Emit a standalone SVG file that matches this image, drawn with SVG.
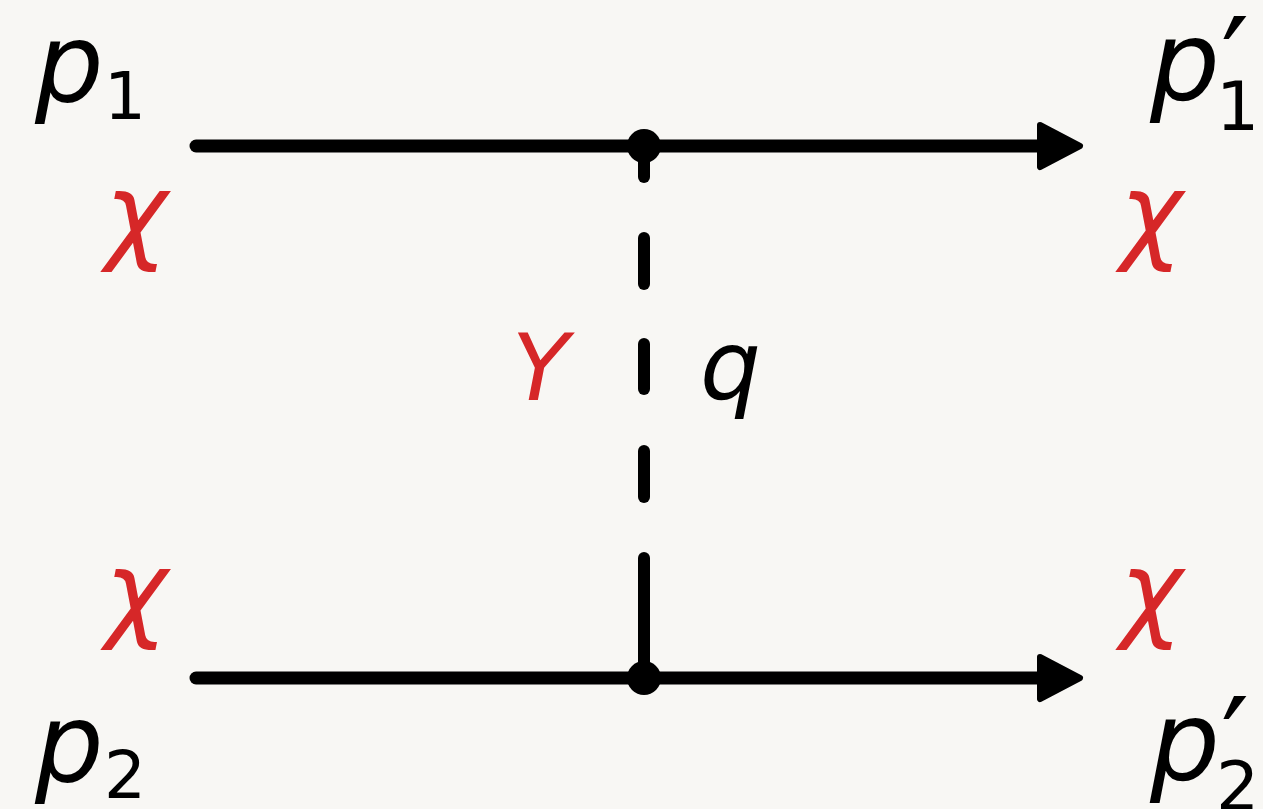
<svg xmlns="http://www.w3.org/2000/svg" width="1263" height="809" viewBox="0 0 1263 809">
<style>
.m{font-family:"DejaVu Sans",sans-serif;font-style:italic;fill:#000}
.s{font-style:normal}
.r{font-family:"DejaVu Sans",sans-serif;font-style:italic;fill:#d62728}
.ln{stroke:#000;stroke-width:13;stroke-linecap:round;fill:none}
.ds{stroke:#000;stroke-width:12;stroke-linecap:round;fill:none}
.ah{fill:#000;stroke:#000;stroke-width:6;stroke-linejoin:round}
</style>
<rect width="1263" height="809" fill="#f8f7f4"/>
<g id="connectors">
<line class="ln" x1="196" y1="146" x2="1045" y2="146"/>
<polygon class="ah" points="1040,125 1080,146 1040,167"/>
<line class="ln" x1="196" y1="678" x2="1045" y2="678"/>
<polygon class="ah" points="1040,657 1080,678 1040,699"/>
<g id="propagator">
<line class="ds" x1="644" y1="146" x2="644" y2="177"/>
<line class="ds" x1="644" y1="238" x2="644" y2="284"/>
<line class="ds" x1="644" y1="344" x2="644" y2="389"/>
<line class="ds" x1="644" y1="451" x2="644" y2="497"/>
<line class="ds" x1="644" y1="558" x2="644" y2="678"/>
</g>
</g>
<g id="vertex-top"><circle cx="644" cy="146" r="17"/></g>
<g id="vertex-bottom"><circle cx="644" cy="678" r="17"/></g>
<g id="label-p1"><text class="m" x="35" y="102" font-size="108">p<tspan class="s" x="104" y="119" font-size="66">1</tspan></text></g>
<g id="label-p1prime"><text class="m" x="1150" y="100" font-size="110">p<tspan class="s" x="1221" y="107" font-size="125">′</tspan><tspan class="s" x="1216" y="130" font-size="68">1</tspan></text></g>
<g id="label-p2"><text class="m" x="35" y="782" font-size="108">p<tspan class="s" x="104" y="798" font-size="66">2</tspan></text></g>
<g id="label-p2prime"><text class="m" x="1150" y="780" font-size="110">p<tspan class="s" x="1221" y="787" font-size="125">′</tspan><tspan class="s" x="1216" y="810" font-size="68">2</tspan></text></g>
<g id="chi-tl"><text class="r" x="105" y="250" font-size="106">χ</text></g>
<g id="chi-tr"><text class="r" x="1120" y="250" font-size="106">χ</text></g>
<g id="chi-bl"><text class="r" x="105" y="628" font-size="106">χ</text></g>
<g id="chi-br"><text class="r" x="1120" y="628" font-size="106">χ</text></g>
<g id="label-Y"><text class="r" x="512" y="400" font-size="93">Y</text></g>
<g id="label-q"><text class="m" x="700" y="399" font-size="96">q</text></g>
</svg>
